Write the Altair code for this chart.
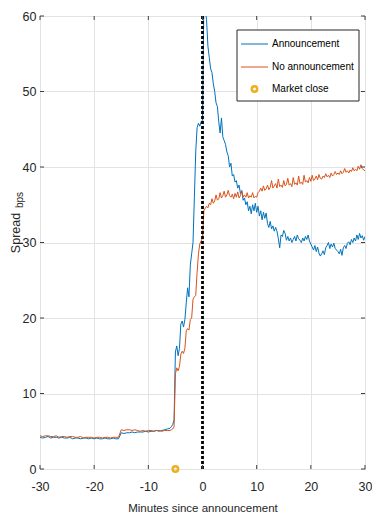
import altair as alt
import pandas as pd

# ---------------- data ----------------
t_pre = [-30 + 0.5 * i for i in range(48)]      # -30 ... -6.5
t_post = [-6 + 0.25 * i for i in range(145)]    # -6 ... 30

blue_pre = [4.2, 4.1, 4.2, 4.3, 4.1, 4.2, 4.2, 4.1, 4.2, 4.1,
            4.1, 4.2, 4.0, 4.1, 4.1, 4.0, 4.1, 4.1, 4.0, 4.1,
            4.0, 4.1, 4.0, 4.0, 4.1, 4.0, 4.0, 4.1, 4.0, 4.0,
            4.8, 4.7, 4.8, 4.8, 4.9, 4.8, 4.9, 4.9, 4.9, 5.0,
            4.9, 5.0, 5.0, 5.1, 5.0, 5.1, 5.2, 5.3]
orange_pre = [4.4, 4.3, 4.4, 4.4, 4.3, 4.3, 4.4, 4.2, 4.3, 4.3,
              4.2, 4.3, 4.3, 4.2, 4.2, 4.3, 4.1, 4.2, 4.2, 4.2,
              4.1, 4.2, 4.2, 4.1, 4.2, 4.2, 4.1, 4.2, 4.2, 4.2,
              5.2, 5.1, 5.2, 5.2, 5.1, 5.2, 5.1, 5.0, 5.1, 5.0,
              5.1, 5.1, 5.0, 5.1, 5.1, 5.0, 5.1, 5.1]

blue_post = [5.4, 5.6, 5.9, 6.5,
             15.5, 16.3, 15.0, 16.0,
             19.2, 19.6, 18.8, 19.8,
             22.0, 24.0, 22.8, 27.0,
             28.5, 30.0, 36.0, 42.0,
             45.2, 45.8, 45.4, 46.0,
             46.2, 61.5, 61.0, 59.5,
             56.0, 54.5, 53.0, 52.5,
             51.0, 50.0, 48.5, 48.0,
             46.0, 44.5, 46.5, 44.0,
             43.5, 43.0, 42.0, 41.5,
             40.0, 40.5, 38.8, 39.0,
             38.0, 38.2, 37.2, 37.6,
             36.5, 36.9, 35.6, 35.9,
             35.0, 35.4, 34.2, 34.8,
             33.8, 35.0, 34.2, 35.2,
             34.0, 34.8, 33.5, 34.2,
             33.0, 34.0, 33.2, 33.9,
             32.5, 32.0, 32.8, 31.8,
             32.2, 31.5, 32.0, 31.5,
             30.5, 29.3, 31.0, 30.8,
             31.6, 31.2, 30.3, 30.8,
             30.2, 30.6, 30.0, 30.4,
             30.8, 30.2, 31.0, 30.5,
             30.3, 30.0, 30.6, 30.2,
             30.8, 30.4, 31.0, 30.2,
             29.8, 29.4, 29.0, 29.6,
             28.8, 29.4, 28.6, 28.2,
             28.5, 28.9, 28.4, 29.3,
             29.6, 30.0, 29.2, 29.8,
             29.4, 29.9, 29.2, 29.0,
             28.8, 28.5, 29.1, 28.3,
             29.3, 29.6, 29.2, 29.9,
             30.1, 29.7, 30.4, 30.0,
             30.6, 30.2, 31.0, 30.4,
             31.2, 30.6, 30.9, 30.3,
             30.8]

orange_post = [5.1, 5.2, 5.3, 5.6,
               12.6, 13.4, 13.0, 13.6,
               15.2, 15.6, 15.3, 16.0,
               18.3, 18.6, 18.4, 19.8,
               20.0, 22.5, 22.8, 23.0,
               26.0, 28.5, 29.8, 30.2,
               30.6, 34.2, 34.5, 34.8,
               34.6, 35.2, 35.0, 35.8,
               35.2, 35.5, 36.3, 35.6,
               35.8, 36.6, 35.9, 36.2,
               36.8, 36.0, 36.3, 36.9,
               36.2, 36.0, 36.4, 35.8,
               36.5, 36.0, 36.7, 35.9,
               36.2, 36.8, 36.0, 36.3,
               36.0, 36.6, 35.9, 36.2,
               36.0, 36.6, 35.9, 36.1,
               36.0, 36.6, 36.8, 37.2,
               36.8, 37.5, 36.9, 37.1,
               37.6, 37.0, 37.3, 38.2,
               37.2, 37.5, 37.8, 37.2,
               38.4, 37.4, 37.6, 37.3,
               38.2, 37.5, 37.7, 38.5,
               37.6, 37.8, 37.4, 38.6,
               37.7, 37.9, 37.6, 38.8,
               37.8, 38.0, 37.7, 38.9,
               38.0, 38.2, 37.9, 38.6,
               38.1, 38.9, 38.2, 38.4,
               38.8, 38.3, 39.0, 38.5,
               38.4, 38.8, 38.6, 39.1,
               38.7, 38.9, 38.6, 39.2,
               38.8, 39.0, 39.4, 39.0,
               39.2, 39.0, 39.5, 39.1,
               39.3, 39.8, 39.3, 39.5,
               39.2, 39.6, 39.4, 39.9,
               39.5, 39.7, 39.5, 40.1,
               39.7, 40.3, 39.8, 39.6,
               39.5]

market_close_t = [-5]
market_close_v = [0]
announce_t = [0]
x_ticks = [-30, -20, -10, 0, 10, 20, 30]
y_ticks = [0, 10, 20, 30, 40, 50, 60]
legend_labels = ["Announcement", "No announcement", "Market close"]

BLUE = "#0072BD"
ORANGE = "#D95319"
YELLOW = "#EDB120"
SANS = "Liberation Sans, Arial, Helvetica, sans-serif"
TXT = "#262626"

W, H = 325, 453

blue_df = pd.DataFrame({"t": t_pre + t_post, "v": blue_pre + blue_post})
orange_df = pd.DataFrame({"t": t_pre + t_post, "v": orange_pre + orange_post})
mc_df = pd.DataFrame({"t": market_close_t, "v": market_close_v})
ann_df = pd.DataFrame({"t": announce_t, "v": [0], "v2": [60]})
xt_df = pd.DataFrame({"t": x_ticks})
yt_df = pd.DataFrame({"v": y_ticks})
one = pd.DataFrame({"a": [0]})

x_scale = alt.Scale(domain=[-30, 30], nice=False, zero=False)
y_scale = alt.Scale(domain=[0, 60], nice=False, zero=False)
x_axis = alt.Axis(values=x_ticks, title="Minutes since announcement",
                  labelExpr="toString(datum.value)", grid=True, ticks=False,
                  domain=False, labelFont=SANS, labelFontSize=12.5,
                  labelColor=TXT, labelPadding=11, titleFont=SANS,
                  titleFontSize=11.5, titleFontWeight="normal", titleColor=TXT,
                  titlePadding=10, labelFlush=False)
y_axis = alt.Axis(values=y_ticks, title=None, labelExpr="toString(datum.value)",
                  grid=True, ticks=False, domain=False, labelFont=SANS,
                  labelFontSize=12.5, labelColor=TXT, labelPadding=4,
                  labelFlush=False)


def X(field="t"):
    return alt.X(f"{field}:Q", scale=x_scale, axis=x_axis)


def Y(field="v"):
    return alt.Y(f"{field}:Q", scale=y_scale, axis=y_axis)


blue_line = alt.Chart(blue_df).mark_line(color=BLUE, strokeWidth=1, clip=True).encode(x=X(), y=Y())
orange_line = alt.Chart(orange_df).mark_line(color=ORANGE, strokeWidth=1, clip=True).encode(x=X(), y=Y())

ann_rule = alt.Chart(ann_df).mark_rule(color="black", strokeWidth=2.8, strokeDash=[3, 2]).encode(
    x=X(), y=Y(), y2="v2:Q")

mc_point = alt.Chart(mc_df).mark_point(shape="circle", size=30, filled=False,
                                       stroke=YELLOW, strokeWidth=2.5, opacity=1).encode(x=X(), y=Y())

# inward ticks on all four sides
tick_style = dict(color="#404040", strokeWidth=1)
xt_bottom = alt.Chart(xt_df).mark_rule(**tick_style).encode(x=X(), y=alt.value(H), y2=alt.value(H - 4))
xt_top = alt.Chart(xt_df).mark_rule(**tick_style).encode(x=X(), y=alt.value(0), y2=alt.value(4))
yt_left = alt.Chart(yt_df).mark_rule(**tick_style).encode(y=Y(), x=alt.value(0), x2=alt.value(4))
yt_right = alt.Chart(yt_df).mark_rule(**tick_style).encode(y=Y(), x=alt.value(W - 4), x2=alt.value(W))

# y title with subscript
ytitle = alt.Chart(one).mark_text(text="Spread", angle=270, font=SANS, fontSize=12.5,
                                  color=TXT, align="center", baseline="middle").encode(
    x=alt.value(-24), y=alt.value(217))
ysub = alt.Chart(one).mark_text(text="bps", angle=270, font=SANS, fontSize=10,
                                color=TXT, align="center", baseline="middle").encode(
    x=alt.value(-20), y=alt.value(184))

# legend box
LX0, LX1, LY0, LY1 = 197, 319, 14, 85
rows = [28, 51, 73]
leg_box = alt.Chart(one).mark_rect(fill="white", stroke="#262626", strokeWidth=1).encode(
    x=alt.value(LX0), x2=alt.value(LX1), y=alt.value(LY0), y2=alt.value(LY1))
leg_l1 = alt.Chart(one).mark_rule(color=BLUE, strokeWidth=1).encode(
    x=alt.value(201), x2=alt.value(228), y=alt.value(rows[0]))
leg_l2 = alt.Chart(one).mark_rule(color=ORANGE, strokeWidth=1).encode(
    x=alt.value(201), x2=alt.value(228), y=alt.value(rows[1]))
leg_p = alt.Chart(one).mark_point(shape="circle", size=30, filled=False, stroke=YELLOW,
                                  strokeWidth=2.5, opacity=1).encode(
    x=alt.value(214.5), y=alt.value(rows[2]))
leg_texts = [alt.Chart(one).mark_text(text=lab, font=SANS, fontSize=10, color="black",
                                      align="left", baseline="middle").encode(
    x=alt.value(232), y=alt.value(r)) for lab, r in zip(legend_labels, rows)]

chart = alt.layer(
    blue_line, orange_line, ann_rule, mc_point,
    xt_bottom, xt_top, yt_left, yt_right,
    ytitle, ysub,
    leg_box, leg_l1, leg_l2, leg_p, *leg_texts,
).properties(
    width=W, height=H,
    autosize=alt.AutoSizeParams(type="none"),
    padding={"left": 32, "top": 8, "right": 7, "bottom": 46},
    background="white",
).configure_view(
    stroke="#4d4d4d", strokeWidth=1
).configure_axis(
    gridColor="#e3e3e3", gridWidth=1
)

chart.save("out.html", embed_options={"renderer": "svg", "actions": False})
